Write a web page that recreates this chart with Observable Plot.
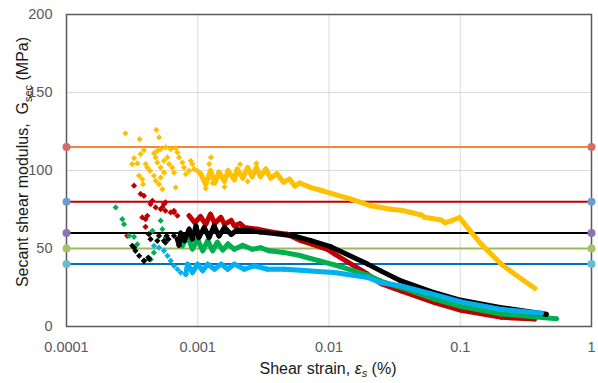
<!DOCTYPE html>
<html><head><meta charset="utf-8">
<script src="https://cdn.jsdelivr.net/npm/d3@7"></script>
<script src="https://cdn.jsdelivr.net/npm/@observablehq/plot@0.6"></script>
<style>
html,body{margin:0;padding:0;background:#fff;}
svg{display:block;}
</style></head><body><div id="chart"></div>
<script>
const xTicks = [0.0001, 0.001, 0.01, 0.1, 1];
const yTicks = [0, 50, 100, 150, 200];
const xGrid = [0.001, 0.01, 0.1];
const yGrid = [50, 100, 150];

const thresholdValues = [115, 80, 60, 50, 40];
const thresholdLineColors = ["#F4853B", "#C00000", "#000000", "#9BBB59", "#0070C0"];
const thresholdDotColors = ["#D46C67", "#6C9BD2", "#8E74B4", "#A3C466", "#66BCD2"];

const seriesNames = ["yellow", "red", "green", "black", "blue"];
const seriesColors = ["#FFC000", "#C00000", "#00B050", "#000000", "#00B0F0"];

// sparse scatter points [strain %, Gsec MPa]
const yellowScatter = [
  [0.000281,123.8],[0.000361,120.1],[0.000484,126.1],[0.000507,121.2],
  [0.000389,113.1],[0.000367,110.5],[0.000327,107.9],[0.000317,104.1],[0.000347,104.5],
  [0.000401,104.1],[0.000413,101.9],[0.000433,99.8],[0.000357,96.6],[0.000378,94.4],
  [0.000383,91.2],[0.000464,111.1],[0.000492,112.6],[0.000522,113.7],[0.00057,114.8],
  [0.000622,113.7],[0.000679,114.3],[0.0007,111.6],[0.000478,108.4],[0.000492,105.1],
  [0.000522,101.9],[0.000553,106.2],[0.000587,108.4],[0.000604,104.1],[0.000641,101.9],
  [0.000659,98.7],[0.000464,96.6],[0.000478,93.4],[0.000522,95.5],[0.000553,98.7],
  [0.000721,108.4],[0.000764,105.1],[0.000787,101.9],[0.000811,97.7],[0.000859,99.8],
  [0.000885,106.2],[0.000911,104.1],[0.000938,100.9],[0.000995,99.8],[0.001054,97.7],
  [0.000679,89.1],[0.000507,91.2],[0.000537,88.0],[0.001259,108.4],[0.001223,104.1],
  [0.00115,88.5],[0.0013,92],[0.0016,89.5],[0.0021,104],[0.0028,104.5],[0.0024,93]
];
const yellowBand = [
  [0.00105,98],[0.00115,91],[0.00125,100],[0.00135,92],[0.00145,99],[0.0016,93],[0.0017,100],
  [0.0019,94],[0.002,101],[0.0022,95],[0.0024,102],[0.0026,96],[0.0028,102],[0.003,96],
  [0.0033,101],[0.0036,95],[0.004,98],[0.0045,92.5],[0.005,94.5],[0.0055,90],[0.006,92],
  [0.0073,89],[0.0085,87.5],[0.0104,85.3],[0.0147,81.6],[0.0209,77.4],[0.0297,75.2],
  [0.0355,74.5],[0.0423,73.1],[0.0505,71.5],[0.0534,70],[0.0716,68.3],[0.0765,66.5],
  [0.0853,67.7],[0.0988,69.9],[0.121,60.5],[0.145,52.7],[0.153,50.6],[0.206,39.9],
  [0.26,33.5],[0.37,24.5]
];

const redScatter = [
  [0.000327,90.3],[0.000367,85],[0.000389,83.8],[0.000437,78.5],[0.000478,76.3],[0.000451,80.6],
  [0.000522,75.2],[0.000553,78.5],[0.000567,74.2],[0.000622,73.1],[0.000659,74.2],[0.0007,71],
  [0.000378,69.9],[0.000413,71],[0.0004,68.8],[0.0004,63.9],[0.00029,58.1],[0.000537,76.3],
  [0.00066,73.1],[0.000568,79.6]
];
const redBand = [
  [0.00086,71],[0.00095,66.5],[0.00105,70.5],[0.00115,65.5],[0.00125,72],[0.00135,66],
  [0.0015,70],[0.0016,65.5],[0.0018,68],[0.0019,64.5],[0.0021,66],[0.00226,63.5],
  [0.00285,62.4],[0.0038,60.3],[0.0048,59.2],[0.0061,55],[0.0073,53],[0.0097,49.5],
  [0.011,46.5],[0.0197,33.5],[0.0249,27.5],[0.0354,22.8],[0.0637,15.3],[0.1016,10.4],
  [0.206,5.9],[0.369,4.8]
];

const greenScatter = [
  [0.000237,76.3],[0.000266,68.8],[0.000274,65.6],[0.0003,58.1],[0.000327,57.5],
  [0.000346,52.7],[0.000522,67.8],[0.000538,62.4],[0.000451,61.3],[0.000438,43],
  [0.000463,47.3],[0.00057,57.1]
];
const greenBand = [
  [0.0007,56],[0.000764,51.7],[0.000835,58],[0.000911,49.6],[0.000995,56],[0.00109,48.5],
  [0.00119,55],[0.0013,48.5],[0.00141,54],[0.00155,49],[0.0017,53],[0.0019,49.5],
  [0.0022,52],[0.0026,49.5],[0.003,50.5],[0.0035,48.5],[0.0045,47.5],[0.006,45.5],
  [0.0085,42],[0.011,39.5],[0.0197,33],[0.025,29],[0.0354,25],[0.0637,17.5],
  [0.1016,12.8],[0.206,8],[0.541,5]
];

const blackScatter = [
  [0.000317,51.7],[0.000327,50.6],[0.000335,48.5],[0.000358,45.3],[0.000389,42.1],
  [0.00039,42.1],[0.00042,44.2],[0.000427,43.1],[0.000437,56],[0.000424,59.2],
  [0.000507,58.1],[0.000492,54.9],[0.000553,54.9],[0.000567,53.8],[0.00058,58.1],
  [0.000598,56],[0.000659,58.1]
];
const blackBand = [
  [0.0007,56],[0.00072,52],[0.00074,60],[0.00079,55],[0.00086,62.4],[0.00091,56],
  [0.00097,64.5],[0.00102,57],[0.00112,63.5],[0.00122,57],[0.00133,64.5],[0.00145,58],
  [0.0016,63.5],[0.0018,59],[0.002,62],[0.0025,61.5],[0.003,60.5],[0.004,59.5],
  [0.0054,58],[0.0073,55],[0.0104,51],[0.0197,40],[0.025,35.5],[0.0354,29.2],
  [0.06,22.3],[0.1016,16.8],[0.206,12.1],[0.453,7.8]
];

const blueScatter = [
  [0.000464,51.7],[0.000507,50.6],[0.000553,48.5],[0.000587,45.3],[0.000622,42.1],
  [0.000659,38.9],[0.0007,36.7],[0.000742,34.6],[0.00081,33.5]
];
const blueBand = [
  [0.00081,33.5],[0.000836,40],[0.000912,34.6],[0.000996,40],[0.00109,35.7],[0.00119,40],
  [0.00134,36.7],[0.00151,40],[0.00169,36.7],[0.0019,40],[0.00226,36.7],[0.0027,38.9],
  [0.0034,36.7],[0.00455,36.7],[0.0061,36],[0.0082,35.2],[0.011,34.6],[0.0197,31.4],
  [0.025,28],[0.0354,26],[0.06,21],[0.1016,15.8],[0.206,11],[0.415,8.5]
];

const scatters = [yellowScatter, redScatter, greenScatter, blackScatter, blueScatter];
const bands = [yellowBand, redBand, greenBand, blackBand, blueBand];

const thresholds = thresholdValues.map((v, i) => ({v, line: thresholdLineColors[i], dot: thresholdDotColors[i]}));
const thresholdEnds = thresholds.flatMap(t => [{x: xTicks[0], ...t}, {x: xTicks[xTicks.length - 1], ...t}]);

const seriesMarks = seriesNames.flatMap((name, i) => [
  Plot.line(bands[i], {x: d => d[0], y: d => d[1], stroke: seriesColors[i], strokeWidth: 5,
    strokeLinejoin: "round", strokeLinecap: "round"}),
  Plot.dot(bands[i], {x: d => d[0], y: d => d[1], symbol: "diamond2", r: 2.6,
    fill: seriesColors[i], stroke: "none"}),
  Plot.dot(scatters[i], {x: d => d[0], y: d => d[1], symbol: "diamond2", r: 2.8,
    fill: seriesColors[i], stroke: "none"})
]);

const chart = Plot.plot({
  width: 598, height: 383,
  marginLeft: 66, marginRight: 7, marginTop: 14, marginBottom: 57,
  style: {fontFamily: "'Liberation Sans', Arial, sans-serif", fontSize: "14px", background: "#fff"},
  x: {type: "log", domain: [xTicks[0], xTicks[xTicks.length - 1]]},
  y: {domain: [yTicks[0], yTicks[yTicks.length - 1]]},
  marks: [
    Plot.ruleX(xGrid, {stroke: "#d9d9d9", strokeWidth: 1}),
    Plot.ruleY(yGrid, {stroke: "#d9d9d9", strokeWidth: 1}),
    Plot.ruleY(thresholds, {y: "v", stroke: "line", strokeWidth: 2}),
    ...seriesMarks,
    Plot.frame({stroke: "#595959", strokeWidth: 1.5}),
    Plot.dot(thresholdEnds, {x: "x", y: "v", fill: "dot", r: 4, stroke: "none"}),
    Plot.axisX(xTicks, {tickSize: 0, tickPadding: 15, tickFormat: d => String(d), label: null,
      fontSize: 14.5, color: "#595959"}),
    Plot.axisY(yTicks, {tickSize: 0, tickPadding: 14, label: null, fontSize: 14.5, color: "#595959"})
  ]
});

const svg = d3.select(chart);
const yl = svg.append("text")
  .attr("transform", "translate(28,162) rotate(-90)")
  .attr("text-anchor", "middle")
  .attr("fill", "#1a1a1a")
  .style("font-size", "16px");
yl.append("tspan").text("Secant shear modulus,  G");
yl.append("tspan").attr("dy", 4).style("font-size", "11px").text("sec");
yl.append("tspan").attr("dy", -4).text(" (MPa)");

const xl = svg.append("text")
  .attr("x", 328).attr("y", 374)
  .attr("text-anchor", "middle")
  .attr("fill", "#1a1a1a")
  .style("font-size", "16px");
xl.append("tspan").text("Shear strain, ");
xl.append("tspan").style("font-style", "italic").text("ε");
xl.append("tspan").attr("dy", 3).style("font-style", "italic").style("font-size", "11px").text("s");
xl.append("tspan").attr("dy", -3).text(" (%)");

document.getElementById("chart").appendChild(chart);
</script>
</body></html>
